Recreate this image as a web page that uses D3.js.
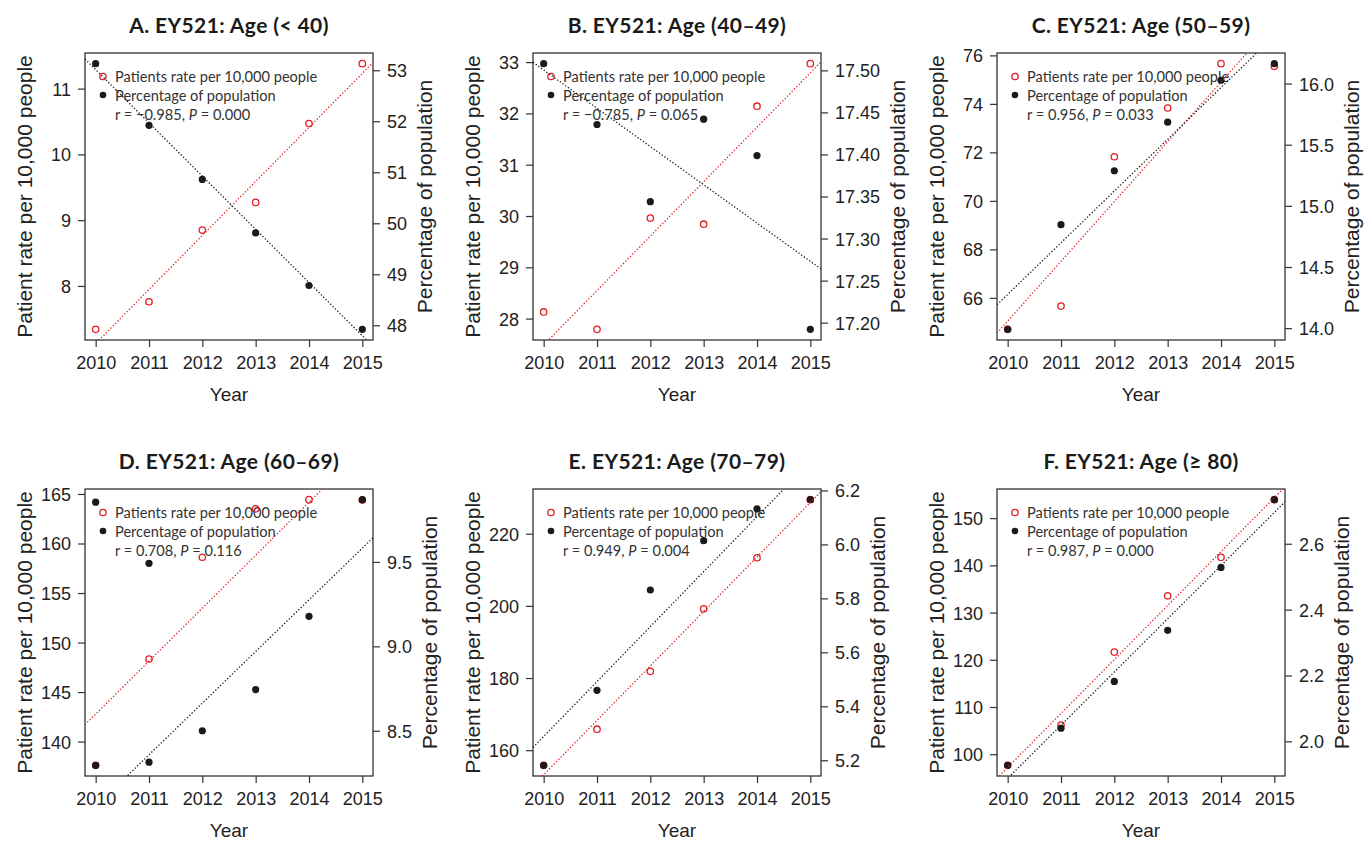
<!DOCTYPE html>
<html>
<head>
<meta charset="utf-8">
<title>EY521 by age group</title>
<script src="https://d3js.org/d3.v7.min.js"></script>
<style>
  body { margin: 0; background: #fff; }
  .tick text { font-family: "Liberation Sans", Arial, sans-serif; font-size: 18px; fill: #222; }
  .tick line { stroke: #333; stroke-width: 1.2; }
  .axis-title { font-family: "Liberation Sans", Arial, sans-serif; fill: #222; }
  .panel-title { font-family: Lato, sans-serif; font-weight: 700; font-size: 21px; letter-spacing: 0.4px; fill: #1a1a1a; }
  .legend text { font-family: Lato, sans-serif; font-size: 14.6px; fill: #333; }
</style>
</head>
<body>
<script>

// years on the x axis
var years = [2010, 2011, 2012, 2013, 2014, 2015];

var panelTitles = [
  "A. EY521: Age (< 40)", "B. EY521: Age (40–49)", "C. EY521: Age (50–59)",
  "D. EY521: Age (60–69)", "E. EY521: Age (70–79)", "F. EY521: Age (≥ 80)"
];

// patients rate per 10,000 people (left axis)
var rateA = [7.34, 7.76, 8.85, 9.27, 10.47, 11.38];
var rateB = [28.13, 27.79, 29.96, 29.84, 32.14, 32.97];
var rateC = [64.70, 65.66, 71.82, 73.83, 75.66, 75.55];
var rateD = [137.6, 148.34, 158.61, 163.5, 164.43, 164.39];
var rateE = [155.8, 165.83, 181.85, 199.17, 213.33, 229.44];
var rateF = [97.64, 106.17, 121.63, 133.55, 141.70, 153.92];

// percentage of population (right axis)
var pctA = [53.13, 51.92, 50.86, 49.81, 48.78, 47.92];
var pctB = [17.508, 17.4356, 17.3438, 17.442, 17.3987, 17.192];
var pctC = [13.99, 14.846, 15.287, 15.684, 16.027, 16.163];
var pctD = [8.295, 8.314, 8.5, 8.744, 9.178, 9.869];
var pctE = [5.181, 5.459, 5.831, 6.014, 6.132, 6.166];
var pctF = [1.927, 2.040, 2.182, 2.337, 2.528, 2.734];

// two extra black dots that show in panel D ([year, percentage])
var strayD = [[2010, 9.854], [2011, 9.492]];

// correlation text
var rValues = ["−0.985", "−0.785", "0.956", "0.708", "0.949", "0.987"];
var pValues = ["0.000", "0.065", "0.033", "0.116", "0.004", "0.000"];

var rates = [rateA, rateB, rateC, rateD, rateE, rateF];
var pcts = [pctA, pctB, pctC, pctD, pctE, pctF];
var strays = [[], [], [], strayD, [], []];

var red = "#e31e24", dark = "#1a1a1a";

// layout of the 3 x 2 grid
var colLeft = [85, 533, 997],
    rowTop = [53, 489],
    boxW = 288,
    boxH = 287;

var svg = d3.select("body").append("svg")
    .attr("width", 1364)
    .attr("height", 842);

svg.append("rect").attr("width", 1364).attr("height", 842).attr("fill", "#fff");

// R style range: data extent plus 4% on each side
function padded(vals) {
  var e = d3.extent(vals), p = 0.04 * (e[1] - e[0]);
  return [e[0] - p, e[1] + p];
}

// least squares line
function fit(xs, ys) {
  var mx = d3.mean(xs), my = d3.mean(ys);
  var sxy = d3.sum(xs, function(d, i) { return (d - mx) * (ys[i] - my); });
  var sxx = d3.sum(xs, function(d) { return (d - mx) * (d - mx); });
  var b = sxy / sxx;
  return function(x) { return my + b * (x - mx); };
}

panelTitles.forEach(function(title, i) {
  var rate = rates[i], pct = pcts[i];
  var g = svg.append("g")
      .attr("transform", "translate(" + colLeft[i % 3] + "," + rowTop[Math.floor(i / 3)] + ")");

  var x = d3.scaleLinear().domain(padded(years)).range([0, boxW]);
  var yL = d3.scaleLinear().domain(padded(rate)).range([boxH, 0]);
  var yR = d3.scaleLinear().domain(padded(pct)).range([boxH, 0]);

  g.append("clipPath").attr("id", "clip" + i)
    .append("rect").attr("width", boxW).attr("height", boxH);

  // x axis
  var xa = g.append("g")
      .attr("transform", "translate(0," + boxH + ")")
      .call(d3.axisBottom(x).tickValues(years).tickFormat(d3.format("d"))
        .tickSize(7).tickPadding(9).tickSizeOuter(0));
  xa.select(".domain").remove();

  // left axis
  var la = g.append("g")
      .call(d3.axisLeft(yL).ticks(5).tickSize(7).tickPadding(7).tickSizeOuter(0));
  la.select(".domain").remove();

  // right axis, same decimals on every label
  var dR = yR.domain();
  var prec = d3.precisionFixed(d3.tickStep(dR[0], dR[1], 5));
  var ra = g.append("g")
      .attr("transform", "translate(" + boxW + ",0)")
      .call(d3.axisRight(yR).ticks(5).tickFormat(d3.format("." + prec + "f"))
        .tickSize(7).tickPadding(7).tickSizeOuter(0));
  ra.select(".domain").remove();
  ra.selectAll("text").attr("dy", "0.36em");
  la.selectAll("text").attr("dy", "0.36em");

  // box
  g.append("rect")
    .attr("width", boxW).attr("height", boxH)
    .attr("fill", "none").attr("stroke", "#333").attr("stroke-width", 1.3);

  // titles
  g.append("text").attr("class", "panel-title")
    .attr("x", boxW / 2).attr("y", -20)
    .attr("text-anchor", "middle").text(title);

  g.append("text").attr("class", "axis-title")
    .attr("x", boxW / 2).attr("y", boxH + 61)
    .attr("text-anchor", "middle").style("font-size", "19px").text("Year");

  g.append("text").attr("class", "axis-title")
    .attr("transform", "translate(-61," + boxH / 2 + ") rotate(-90)")
    .attr("text-anchor", "middle").attr("dominant-baseline", "central")
    .style("font-size", "21px").text("Patient rate per 10,000 people");

  var rb = ra.node().getBBox();
  g.append("text").attr("class", "axis-title")
    .attr("transform", "translate(" + (boxW + rb.x + rb.width + 17) + "," + boxH / 2 + ") rotate(-90)")
    .attr("text-anchor", "middle").attr("dominant-baseline", "central")
    .style("font-size", "21px").text("Percentage of population");

  // legend
  var lg = g.append("g").attr("class", "legend");
  lg.append("circle").attr("cx", 18).attr("cy", 23.5).attr("r", 3.2)
    .attr("fill", "none").attr("stroke", red).attr("stroke-width", 1.3);
  lg.append("circle").attr("cx", 18).attr("cy", 42).attr("r", 3.3).attr("fill", dark);
  lg.append("text").attr("x", 30).attr("y", 23.5).attr("dominant-baseline", "central")
    .text("Patients rate per 10,000 people");
  lg.append("text").attr("x", 30).attr("y", 42).attr("dominant-baseline", "central")
    .text("Percentage of population");
  var st = lg.append("text").attr("x", 30).attr("y", 60.5).attr("dominant-baseline", "central");
  st.append("tspan").text("r = " + rValues[i] + ", ");
  st.append("tspan").style("font-style", "italic").text("P");
  st.append("tspan").text(" = " + pValues[i]);

  // points: red open circles, then black dots
  var plot = g.append("g").attr("clip-path", "url(#clip" + i + ")");
  plot.selectAll(".rate").data(rate).enter().append("circle")
    .attr("cx", function(d, j) { return x(years[j]); })
    .attr("cy", function(d) { return yL(d); })
    .attr("r", 3.2)
    .attr("fill", "none").attr("stroke", red).attr("stroke-width", 1.3);

  plot.selectAll(".pct").data(pct.map(function(d, j) { return [years[j], d]; }).concat(strays[i]))
    .enter().append("circle")
    .attr("cx", function(d) { return x(d[0]); })
    .attr("cy", function(d) { return yR(d[1]); })
    .attr("r", 3.6)
    .attr("fill", dark);

  // dotted trend lines
  var fr = fit(years, rate), fp = fit(years, pct), xd = x.domain();
  plot.append("line")
    .attr("x1", x(xd[0])).attr("x2", x(xd[1]))
    .attr("y1", yL(fr(xd[0]))).attr("y2", yL(fr(xd[1])))
    .attr("stroke", red).attr("stroke-width", 1.3).attr("stroke-dasharray", "1.3,2");
  plot.append("line")
    .attr("x1", x(xd[0])).attr("x2", x(xd[1]))
    .attr("y1", yR(fp(xd[0]))).attr("y2", yR(fp(xd[1])))
    .attr("stroke", dark).attr("stroke-width", 1.3).attr("stroke-dasharray", "1.3,2");
});

</script>
</body>
</html>
